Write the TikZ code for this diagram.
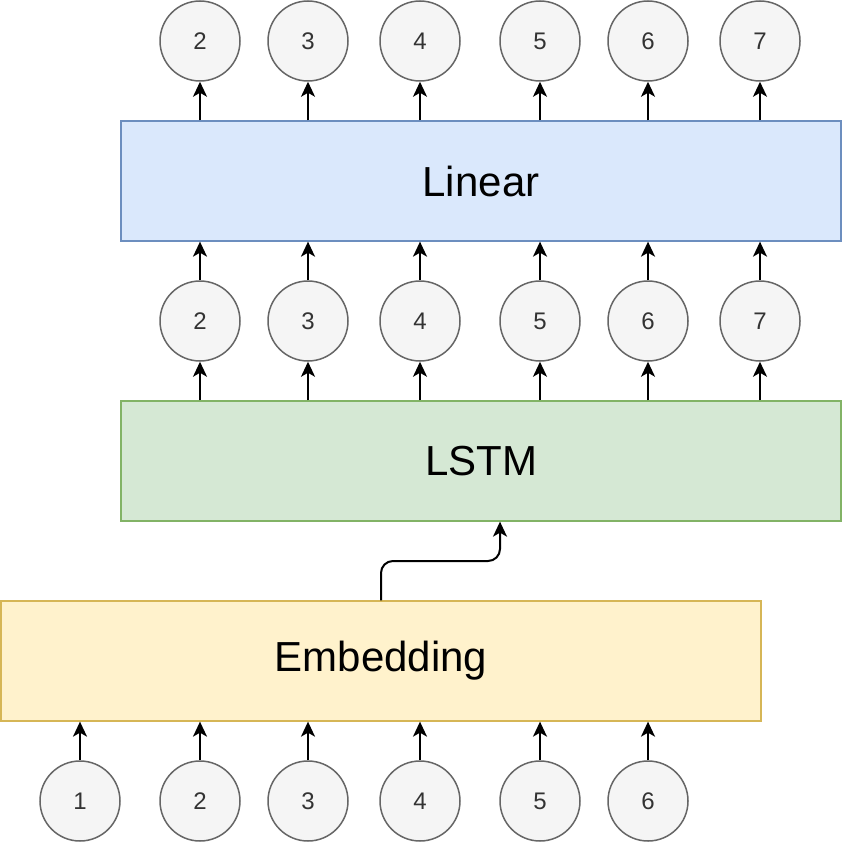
\documentclass[tikz,border=0pt]{standalone}
\usepackage{fontspec}
\setmainfont{Liberation Sans}
\usetikzlibrary{arrows.meta}
\definecolor{linfill}{HTML}{DAE8FC}\definecolor{linline}{HTML}{6C8EBF}
\definecolor{lstmfill}{HTML}{D5E8D4}\definecolor{lstmline}{HTML}{82B366}
\definecolor{embfill}{HTML}{FFF2CC}\definecolor{embline}{HTML}{D6B656}
\definecolor{tokfill}{HTML}{F5F5F5}\definecolor{tokline}{HTML}{666666}
\definecolor{toktext}{HTML}{333333}
\begin{document}
\begin{tikzpicture}[x=1pt,y=-1pt,
  layer/.style={draw, line width=1.3pt, minimum height=120pt,
    inner sep=0pt, font=\fontsize{42}{48}\selectfont},
  token/.style={circle, draw=tokline, fill=tokfill, line width=1.5pt,
    minimum size=80pt, inner sep=0pt, text=toktext, font=\fontsize{24}{28}\selectfont},
  flow/.style={line width=2pt, -{Stealth[length=15pt,width=14pt,inset=4pt]}},
]
\useasboundingbox (0,0) rectangle (842,842);
% layer boxes
\node[layer, minimum width=720pt, draw=linline, fill=linfill] (linear) at (481,181) {Linear};
\node[layer, minimum width=720pt, draw=lstmline, fill=lstmfill] (lstm) at (481,461) {LSTM};
\node[layer, minimum width=760pt, draw=embline, fill=embfill] (emb) at (381,661) {Embedding};
% token circles
\foreach \n/\x in {2/200,3/308,4/420,5/540,6/648,7/760}{
  \node[token] (out\n) at (\x,41) {\n};
  \node[token] (hid\n) at (\x,321) {\n};
  \draw[flow] (hid\n.north) -- (hid\n.north |- linear.south);
  \draw[flow] (hid\n.south |- lstm.north) -- (hid\n.south);
  \draw[flow] (out\n.south |- linear.north) -- (out\n.south);
}
\foreach \n/\x in {1/80,2/200,3/308,4/420,5/540,6/648}{
  \node[token] (in\n) at (\x,801) {\n};
  \draw[flow] (in\n.north) -- (in\n.north |- emb.south);
}
% embedding feeds the LSTM
\coordinate (bendA) at (381,561);
\coordinate (bendB) at (500,561);
\draw[flow, rounded corners=12pt] (emb.north) -- (bendA) -- (bendB) -- (bendB |- lstm.south);
\end{tikzpicture}
\end{document}
